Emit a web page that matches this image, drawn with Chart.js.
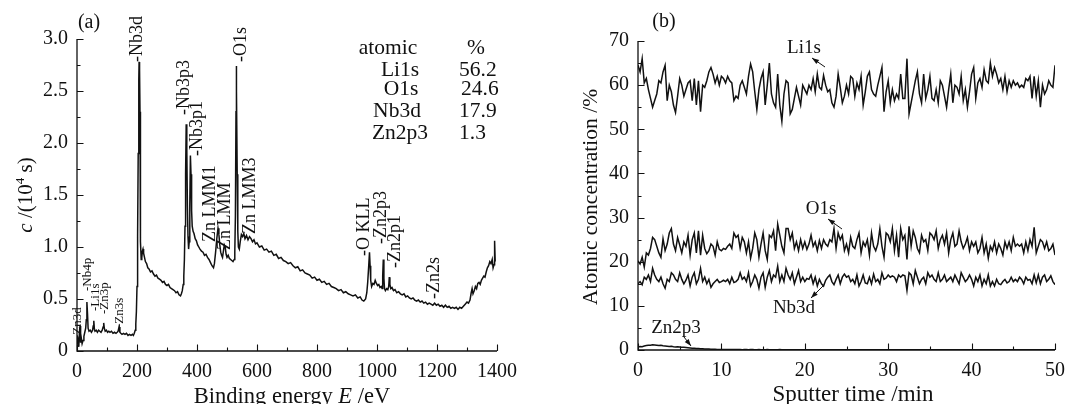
<!DOCTYPE html>
<html>
<head>
<meta charset="utf-8">
<script src="https://cdn.jsdelivr.net/npm/chart.js@4.4.0/dist/chart.umd.min.js"></script>
<style>
  body { margin: 0; background: #fff; }
  #wrap { position: relative; width: 1074px; height: 404px; overflow: hidden; }
  canvas { position: absolute; top: 0; }
</style>
</head>
<body>
<div id="wrap">
  <canvas id="survey" width="537" height="404" style="left:0"></canvas>
  <canvas id="depth" width="537" height="404" style="left:537px"></canvas>
</div>
<script>
// (a) XPS survey spectrum, binding energy in eV, counts in 10^4 s
const bindingEnergy = [0,2,4,6,8,10,12,14,17,20,23,26,29,31,33,35,37,40,44,48,52,54,56,58,60,64,68,72,76,80,84,87,89,91,94,98,102,106,110,115,120,125,130,134,137,140,143,146,150,155,160,165,170,175,180,185,188,191,194,196,198,200,202,204,206,207,208,209,210,211,212,214,216,218,220,222,225,228,232,236,240,245,250,255,260,265,270,275,280,285,290,295,300,305,310,315,320,325,330,335,340,345,348,351,354,356,358,360,362,364,366,368,370,372,374,376,378,380,382,384,387,390,394,398,402,406,410,415,420,425,430,435,440,445,450,455,458,462,466,470,473,476,479,482,485,488,491,494,497,500,504,508,512,516,520,524,526,528,530,531,532,534,536,538,541,544,548,552,556,560,565,570,575,580,585,590,595,600,608,616,624,632,640,648,656,664,672,680,688,696,704,712,720,728,736,744,752,760,768,776,784,792,800,808,816,824,832,840,848,856,864,872,880,888,896,904,912,920,928,936,944,950,956,962,966,969,972,975,977,979,982,986,990,994,998,1002,1006,1010,1014,1017,1019,1021,1023,1025,1028,1032,1036,1039,1041,1043,1046,1050,1055,1060,1066,1072,1078,1084,1090,1096,1102,1108,1114,1120,1126,1132,1138,1144,1150,1156,1162,1168,1174,1180,1186,1192,1198,1204,1210,1216,1222,1228,1234,1240,1246,1252,1258,1264,1270,1276,1282,1288,1294,1300,1305,1310,1314,1317,1320,1324,1328,1332,1336,1340,1344,1348,1352,1356,1360,1364,1368,1372,1376,1380,1384,1387,1390,1392,1394];
const surveyCounts = [0.14,0.06,0.12,0.04,0.18,0.24,0.08,0.13,0.07,0.1,0.14,0.18,0.22,0.3,0.47,0.36,0.22,0.19,0.2,0.18,0.2,0.24,0.29,0.21,0.19,0.2,0.18,0.2,0.19,0.18,0.2,0.23,0.27,0.22,0.19,0.2,0.18,0.19,0.18,0.19,0.17,0.18,0.17,0.18,0.19,0.23,0.18,0.17,0.16,0.17,0.16,0.17,0.15,0.16,0.15,0.16,0.15,0.17,0.2,0.26,0.38,0.62,1.1,1.9,2.6,2.78,2.55,2.7,2.3,1.6,1.05,0.88,0.9,0.96,0.98,0.94,0.9,0.86,0.84,0.8,0.79,0.76,0.77,0.74,0.72,0.73,0.7,0.69,0.68,0.66,0.67,0.64,0.63,0.64,0.61,0.6,0.59,0.58,0.56,0.57,0.54,0.53,0.55,0.58,0.64,0.72,0.88,1.2,1.7,2.18,1.95,1.4,1.1,0.98,1.05,1.4,1.88,1.7,1.35,1.2,1.15,1.13,1.08,1.06,1.02,1.0,0.98,0.96,0.95,0.92,0.93,0.9,0.88,0.85,0.82,0.8,0.84,0.95,1.08,1.18,1.12,1.02,0.95,0.92,0.9,0.96,1.02,1.0,0.93,0.9,0.92,0.89,0.88,0.87,0.86,0.88,0.95,1.3,2.3,2.74,2.5,1.7,1.15,1.0,0.98,1.05,1.12,1.1,1.13,1.08,1.11,1.07,1.1,1.08,1.05,1.07,1.03,1.04,1.0,1.01,0.97,0.98,0.95,0.96,0.92,0.93,0.89,0.9,0.87,0.86,0.84,0.85,0.82,0.8,0.81,0.77,0.78,0.75,0.74,0.73,0.7,0.71,0.68,0.69,0.66,0.67,0.64,0.65,0.62,0.61,0.6,0.58,0.59,0.56,0.57,0.55,0.54,0.53,0.54,0.51,0.52,0.49,0.48,0.5,0.56,0.66,0.8,0.95,0.82,0.68,0.62,0.65,0.64,0.68,0.65,0.63,0.64,0.61,0.62,0.6,0.72,0.88,0.7,0.6,0.58,0.6,0.59,0.62,0.71,0.64,0.6,0.61,0.58,0.59,0.56,0.57,0.55,0.54,0.55,0.52,0.53,0.51,0.5,0.51,0.49,0.48,0.49,0.47,0.48,0.46,0.47,0.45,0.46,0.45,0.44,0.46,0.44,0.45,0.43,0.44,0.42,0.44,0.42,0.43,0.41,0.42,0.41,0.42,0.4,0.42,0.41,0.43,0.45,0.47,0.46,0.49,0.56,0.6,0.55,0.58,0.62,0.6,0.65,0.66,0.64,0.68,0.7,0.72,0.71,0.76,0.8,0.82,0.86,0.84,0.88,0.8,0.83,1.06,0.86];
const surveyXTicks = [0, 200, 400, 600, 800, 1000, 1200, 1400];
const surveyYTicks = [0, 0.5, 1.0, 1.5, 2.0, 2.5, 3.0];

// (b) depth profile, sputter time in min, atomic concentration in %
const sputterTime = [0,0.25,0.5,0.75,1,1.25,1.5,1.75,2,2.25,2.5,2.75,3,3.25,3.5,3.75,4,4.25,4.5,4.75,5,5.25,5.5,5.75,6,6.25,6.5,6.75,7,7.25,7.5,7.75,8,8.25,8.5,8.75,9,9.25,9.5,9.75,10,10.25,10.5,10.75,11,11.25,11.5,11.75,12,12.25,12.5,12.75,13,13.25,13.5,13.75,14,14.25,14.5,14.75,15,15.25,15.5,15.75,16,16.25,16.5,16.75,17,17.25,17.5,17.75,18,18.25,18.5,18.75,19,19.25,19.5,19.75,20,20.25,20.5,20.75,21,21.25,21.5,21.75,22,22.25,22.5,22.75,23,23.25,23.5,23.75,24,24.25,24.5,24.75,25,25.25,25.5,25.75,26,26.25,26.5,26.75,27,27.25,27.5,27.75,28,28.25,28.5,28.75,29,29.25,29.5,29.75,30,30.25,30.5,30.75,31,31.25,31.5,31.75,32,32.25,32.5,32.75,33,33.25,33.5,33.75,34,34.25,34.5,34.75,35,35.25,35.5,35.75,36,36.25,36.5,36.75,37,37.25,37.5,37.75,38,38.25,38.5,38.75,39,39.25,39.5,39.75,40,40.25,40.5,40.75,41,41.25,41.5,41.75,42,42.25,42.5,42.75,43,43.25,43.5,43.75,44,44.25,44.5,44.75,45,45.25,45.5,45.75,46,46.25,46.5,46.75,47,47.25,47.5,47.75,48,48.25,48.5,48.75,49,49.25,49.5,49.75,50];
const li1s = [
  64.5,63,66,60.5,61.5,59,57,55,56.5,58,
  61,60.5,63,64.5,56.5,60,58.5,55.5,53.8,57.5,
  61.5,60,57.5,59,60.5,61,56.5,61.5,55.5,61,
  54,60,59.5,61,63,64,62.5,60.5,62,60,
  62,61.5,60.5,62,61,60.5,56.5,57.5,57,60,
  61,59.5,58,62,64.8,63,58.5,54.5,59,61.5,
  63,55.5,60,65,58,56,55,62.5,55.5,51.8,
  58,61,60.5,53.5,54.5,57,59.5,57.5,55.5,60,
  59,58,60,59,61.5,58.5,62.5,59.5,59,62.2,
  60,58.5,59,56,55,57.5,62.5,59.5,56,57.5,
  60,58,62,61.5,57.5,60.5,59,62,55.5,58.5,
  62,63,59,58,57.5,60,62,64,54,58.5,
  61,56,59,56.5,58,57,62.5,57,57,66,
  53.5,56,58.5,61,63,58,56,62.5,57,59,
  62,57,56.5,59,56,61,60,57.5,55,59,
  62.5,56,60,59.5,58,62,56.5,59,55,58.5,
  62.5,64,57,60.5,61.5,59.5,63.5,61,60.5,65,
  62,64,62.5,60.5,61.5,59,62,58.5,61,59.5,
  61,60,60.5,59.5,60,59.5,61.5,61,62,57,
  62,57.5,61,55,60,58,59,61,60,59.5,
  64.5];
const o1s = [
  20.2,19.5,21,18.8,22,21.5,23,25.5,25,23.5,
  22,21,25.2,22.5,24,26.5,27.5,24,22.5,25.5,
  23.8,22,24.5,23.5,26,21.5,25,26.5,22,27,
  21.5,26,23,21.8,22.5,24,23.5,21.5,24.5,22.8,
  22.5,23,22.8,23.5,24,23,26.5,25.5,26,23,
  25.5,24.5,22,24.5,20.8,23,26.5,25,21,24,
  26.5,22.5,20.5,26,25.5,27,22.5,28.5,26,23.5,
  22,27.5,27.5,25,26.5,23,24.5,22.5,25,23,
  24.5,22.8,24,26,23.5,24.5,22.5,24.8,23,25,
  24,23.5,25,24.5,27.5,23,26.5,25,26,22.5,
  24,22,25.5,23.5,23,25,26.5,22,24.5,23.5,
  25,21.5,26.5,23.5,22.5,24,27.5,23.5,21,26.5,
  26,24.5,27.5,22.5,26,21,27.5,25,26,20.5,
  28,23.5,27,25.5,23,22,26,24.5,25,22.5,
  26.5,26,25,27,23,25,26,24,26.5,22,
  25,26.5,23.5,24,27,24.5,23,24,25.5,22.5,
  24.5,23.5,24.5,22,23,25.5,22,24,20.8,23.5,
  22.5,24.5,22,24,23,21.5,24.5,23,24.5,22.5,
  25.5,23.5,24,23.5,24,22,24.5,22.5,25,23.5,
  27.8,22,23.5,25,24.5,23,24.5,22.5,23,24,
  21.5];
const nb3d = [
  15,15.5,14.8,16.5,16,17,15.5,18.5,17,16,
  15.5,16.5,15,14,16,15.5,17.5,17,16,15.5,
  17.5,16,15,15.8,17,14.5,16.5,17.5,15,16,
  18.5,15.5,16.5,15,16,14.2,15,15.5,16,15.3,
  15.5,15.8,15.5,16,15,16.5,15.3,15.5,16,17.5,
  16,16.5,15.5,17.5,14.5,15.5,17,16,14,16.5,
  17.5,14.2,16.5,18,15.5,17,16.5,19,15.5,17,
  15.5,18.5,17,16,17.5,15,16.5,18,15.5,16.5,
  15.5,16.2,16,17,15,16.5,14.5,16,15,14.5,
  15.8,16.5,17,15.5,14.8,16,17,15,16.5,17.2,
  16.5,16.8,15.5,16,15,17,14.5,15.5,17,15.2,
  15,16.5,15,17.2,15.5,16,15,17.5,16,16.3,
  17,16.5,16.8,16.5,15.5,17,16.5,17,16.8,13.5,
  17.5,17,15,18,16.5,15,16,16.5,15,17.5,
  16.5,17,16,15.5,17.5,15.5,16,17,15.5,16,
  16.5,15.5,17,16,15,17.5,16.5,15.5,16,17,
  16,14.5,16.5,15.5,17,14.5,16,15,17,14.5,
  15.5,14.5,16,15,14.8,15.5,16,15.2,15.5,16.5,
  15.5,16,15.5,16.5,16,15,16.5,15.8,16,15,
  17,15.2,17,15,16.5,17,15.5,16,16.8,15.5,
  14.8];
const zn2p3 = [
  0.7,0.8,0.75,0.9,1.0,1.05,1.1,1.2,1.15,1.1,
  1.0,1.05,0.95,0.9,0.85,0.8,0.85,0.75,0.7,0.72,
  0.68,0.65,0.6,0.55,0.5,0.45,0.4,0.38,0.35,0.32,
  0.3,0.28,0.25,0.22,0.2,0.18,0.16,0.15,0.14,0.13,
  0.12,0.1,0.11,0.1,0.09,0.1,0.12,0.1,0.09,0.1,
  0.08,0.1,0.09,0.08,0.1,0.09,0.08,0.07,0.09,0.08,
  0.07,0.08,0.1,0.07,0.08,0.06,0.08,0.07,0.09,0.07,
  0.06,0.08,0.07,0.06,0.07,0.08,0.06,0.07,0.06,0.08,
  0.07,0.06,0.05,0.07,0.06,0.08,0.06,0.05,0.07,0.06,
  0.05,0.06,0.07,0.05,0.06,0.05,0.07,0.06,0.05,0.06,
  0.05,0.07,0.06,0.05,0.06,0.04,0.06,0.05,0.07,0.05,
  0.06,0.05,0.04,0.06,0.05,0.06,0.04,0.05,0.06,0.05,
  0.04,0.05,0.06,0.04,0.05,0.06,0.05,0.04,0.05,0.06,
  0.05,0.04,0.05,0.06,0.04,0.05,0.04,0.06,0.05,0.04,
  0.05,0.06,0.04,0.05,0.04,0.05,0.06,0.04,0.05,0.04,
  0.05,0.04,0.06,0.05,0.04,0.05,0.04,0.05,0.06,0.04,
  0.05,0.04,0.05,0.04,0.06,0.05,0.04,0.05,0.04,0.05,
  0.04,0.05,0.06,0.04,0.05,0.04,0.05,0.04,0.05,0.06,
  0.04,0.05,0.04,0.05,0.04,0.06,0.05,0.04,0.05,0.04,
  0.05,0.04,0.05,0.06,0.04,0.05,0.04,0.05,0.04,0.05,
  0.05];
const depthXTicks = [0, 10, 20, 30, 40, 50];
const depthYTicks = [0, 10, 20, 30, 40, 50, 60, 70];

const FONT = '"Liberation Serif", "Times New Roman", serif';
const INK = '#111';

Chart.defaults.font.family = FONT;
Chart.defaults.color = INK;

function toXY(xs, ys) {
    return xs.map((x, i) => ({ x: x, y: ys[i] }));
}

// texte simple, centré ou aligné
function putText(ctx, txt, x, y, size, align, italic) {
    ctx.save();
    ctx.font = (italic ? 'italic ' : '') + size + 'px ' + FONT;
    ctx.fillStyle = INK;
    ctx.textAlign = align || 'center';
    ctx.textBaseline = 'middle';
    ctx.fillText(txt, x, y);
    ctx.restore();
}

// texte vertical, lu de bas en haut, à partir de yBottom
function putVertical(ctx, txt, x, yBottom, size) {
    ctx.save();
    ctx.translate(x, yBottom);
    ctx.rotate(-Math.PI / 2);
    ctx.font = size + 'px ' + FONT;
    ctx.fillStyle = INK;
    ctx.textAlign = 'left';
    ctx.textBaseline = 'middle';
    ctx.fillText(txt, 0, 0);
    ctx.restore();
}

// titre composé (italique, exposant), centré sur (cx, baseline)
function putRich(ctx, parts, cx, base, size, rotated) {
    ctx.save();
    ctx.fillStyle = INK;
    ctx.textBaseline = 'alphabetic';
    ctx.textAlign = 'left';
    const fontOf = p => (p.it ? 'italic ' : '') + (p.sup ? Math.round(size * 0.62) : size) + 'px ' + FONT;
    let total = 0;
    parts.forEach(p => { ctx.font = fontOf(p); p.w = ctx.measureText(p.t).width; total += p.w; });
    if (rotated) {
        ctx.translate(base, cx);
        ctx.rotate(-Math.PI / 2);
    } else {
        ctx.translate(cx, base);
    }
    let x = -total / 2;
    parts.forEach(p => {
        ctx.font = fontOf(p);
        ctx.fillText(p.t, x, p.sup ? -size * 0.38 : 0);
        x += p.w;
    });
    ctx.restore();
}

function arrow(ctx, x1, y1, x2, y2) {
    // (x1,y1) queue, (x2,y2) pointe
    const a = Math.atan2(y2 - y1, x2 - x1);
    ctx.save();
    ctx.strokeStyle = INK;
    ctx.fillStyle = INK;
    ctx.lineWidth = 1;
    ctx.beginPath();
    ctx.moveTo(x1, y1);
    ctx.lineTo(x2, y2);
    ctx.stroke();
    ctx.beginPath();
    ctx.moveTo(x2, y2);
    ctx.lineTo(x2 - 7 * Math.cos(a) + 2.5 * Math.sin(a), y2 - 7 * Math.sin(a) - 2.5 * Math.cos(a));
    ctx.lineTo(x2 - 7 * Math.cos(a) - 2.5 * Math.sin(a), y2 - 7 * Math.sin(a) + 2.5 * Math.cos(a));
    ctx.closePath();
    ctx.fill();
    ctx.restore();
}

// axes gauche et bas, graduations vers l'intérieur
function drawAxes(chart, xMinor, xEvery, yMinor, yEvery) {
    const { ctx, chartArea: { left, right, top, bottom }, scales: { x, y } } = chart;
    ctx.save();
    ctx.strokeStyle = INK;
    ctx.lineWidth = 1.3;
    ctx.beginPath();
    ctx.moveTo(left, top);
    ctx.lineTo(left, bottom);
    ctx.lineTo(right, bottom);
    ctx.stroke();
    ctx.lineWidth = 1.1;
    ctx.beginPath();
    const nx = Math.round((x.max - x.min) / xMinor);
    for (let i = 0; i <= nx; i++) {
        const px = Math.round(x.getPixelForValue(x.min + i * xMinor)) + 0.5;
        const len = i % xEvery === 0 ? 6.5 : 3.5;
        ctx.moveTo(px, bottom);
        ctx.lineTo(px, bottom - len);
    }
    const ny = Math.round((y.max - y.min) / yMinor);
    for (let i = 0; i <= ny; i++) {
        const py = Math.round(y.getPixelForValue(y.min + i * yMinor)) + 0.5;
        const len = i % yEvery === 0 ? 6.5 : 3.5;
        ctx.moveTo(left, py);
        ctx.lineTo(left + len, py);
    }
    ctx.stroke();
    ctx.restore();
}

const surveyDecor = {
    id: 'surveyDecor',
    afterDraw(chart) {
        const ctx = chart.ctx;
        drawAxes(chart, 100, 2, 0.25, 2);
        putText(ctx, '(a)', 89, 23, 20);
        putRich(ctx, [{ t: 'c', it: true }, { t: ' /(10' }, { t: '4', sup: true }, { t: ' s)' }], 195, 32, 21, true);
        putRich(ctx, [{ t: 'Binding energy ' }, { t: 'E', it: true }, { t: ' /eV' }], 292, 403, 22.5, false);

        // pics
        putVertical(ctx, '-Nb3d', 137, 62, 18);
        putVertical(ctx, '-Nb3p3', 184, 115, 18);
        putVertical(ctx, '-Nb3p1', 197.5, 156, 18);
        putVertical(ctx, '-O1s', 241, 62, 18);
        putVertical(ctx, 'Zn LMM1', 210.5, 242, 18);
        putVertical(ctx, 'Zn LMM', 225.5, 250, 18);
        putVertical(ctx, 'Zn LMM3', 250, 234, 18);
        putVertical(ctx, '-O KLL', 364, 256, 18);
        putVertical(ctx, '-Zn2p3', 381, 244, 18);
        putVertical(ctx, '-Zn2p1', 395, 268, 18);
        putVertical(ctx, '-Zn2s', 434, 299, 18);
        putVertical(ctx, '-Zn3d', 78, 339, 13);
        putVertical(ctx, '-Nb4p', 88, 291, 13);
        putVertical(ctx, '-Li1s', 96, 311, 13);
        putVertical(ctx, '-Zn3p', 104.5, 314, 13);
        putVertical(ctx, '-Zn3s', 120, 328, 13);

        // tableau des concentrations
        putText(ctx, 'atomic', 388, 48, 21.5);
        putText(ctx, '%', 467, 48, 21.5, 'left');
        putText(ctx, 'Li1s', 400, 70, 21.5);
        putText(ctx, '56.2', 459, 70, 21.5, 'left');
        putText(ctx, 'O1s', 401, 89, 21.5);
        putText(ctx, '24.6', 461, 89, 21.5, 'left');
        putText(ctx, 'Nb3d', 397, 111, 21.5);
        putText(ctx, '17.9', 459, 111, 21.5, 'left');
        putText(ctx, 'Zn2p3', 400, 133, 21.5);
        putText(ctx, '1.3', 459, 133, 21.5, 'left');
    }
};

const depthDecor = {
    id: 'depthDecor',
    afterDraw(chart) {
        const ctx = chart.ctx;
        drawAxes(chart, 5, 2, 5, 2);
        putText(ctx, '(b)', 664 - 537, 22, 20);
        putRich(ctx, [{ t: 'Atomic concentration /%' }], 197, 597 - 537, 21.5, true);
        putRich(ctx, [{ t: 'Sputter time /min' }], 853 - 537, 401, 23, false);

        putText(ctx, 'Li1s', 804 - 537, 48, 19);
        arrow(ctx, 825 - 537, 67, 812 - 537, 58);
        putText(ctx, 'O1s', 821 - 537, 209, 19);
        arrow(ctx, 842 - 537, 229, 828 - 537, 219);
        putText(ctx, 'Nb3d', 794 - 537, 308, 19);
        arrow(ctx, 823 - 537, 286, 811 - 537, 298);
        putText(ctx, 'Zn2p3', 676 - 537, 328, 19);
        arrow(ctx, 684 - 537, 337, 691 - 537, 346);
    }
};

function lineSet(points, width) {
    return {
        data: points,
        borderColor: INK,
        borderWidth: width,
        pointRadius: 0,
        tension: 0,
        fill: false
    };
}

function axisX(min, max, ticks, h) {
    return {
        type: 'linear', min: min, max: max,
        afterFit: s => { s.height = h; },
        afterBuildTicks: s => { s.ticks = ticks.map(v => ({ value: v })); },
        grid: { display: false, drawTicks: false },
        border: { display: false },
        ticks: { padding: 9, font: { size: 20 }, color: INK, maxRotation: 0, autoSkip: false, callback: v => String(v) }
    };
}

function axisY(min, max, ticks, w, fmt) {
    return {
        type: 'linear', min: min, max: max,
        afterFit: s => { s.width = w; },
        afterBuildTicks: s => { s.ticks = ticks.map(v => ({ value: v })); },
        grid: { display: false, drawTicks: false },
        border: { display: false },
        ticks: { padding: 9, font: { size: 20 }, color: INK, autoSkip: false, callback: fmt }
    };
}

new Chart(document.getElementById('survey'), {
    type: 'line',
    data: { datasets: [lineSet(toXY(bindingEnergy, surveyCounts), 1.5)] },
    options: {
        responsive: false,
        animation: false,
        devicePixelRatio: 1,
        layout: { padding: { left: 0, right: 40, top: 39, bottom: 0 } },
        plugins: { legend: { display: false }, tooltip: { enabled: false } },
        scales: {
            x: axisX(0, 1400, surveyXTicks, 53),
            y: axisY(0, 3, surveyYTicks, 77, v => v === 0 ? '0' : v.toFixed(1))
        }
    },
    plugins: [surveyDecor]
});

new Chart(document.getElementById('depth'), {
    type: 'line',
    data: {
        datasets: [
            lineSet(toXY(sputterTime, li1s), 1.5),
            lineSet(toXY(sputterTime, o1s), 1.5),
            lineSet(toXY(sputterTime, nb3d), 1.5),
            lineSet(toXY(sputterTime, zn2p3), 1.5)
        ]
    },
    options: {
        responsive: false,
        animation: false,
        devicePixelRatio: 1,
        layout: { padding: { left: 0, right: 17, top: 41, bottom: 0 } },
        plugins: { legend: { display: false }, tooltip: { enabled: false } },
        scales: {
            x: axisX(0, 50, depthXTicks, 54),
            y: axisY(0, 70, depthYTicks, 101, v => String(v))
        }
    },
    plugins: [depthDecor]
});
</script>
</body>
</html>
